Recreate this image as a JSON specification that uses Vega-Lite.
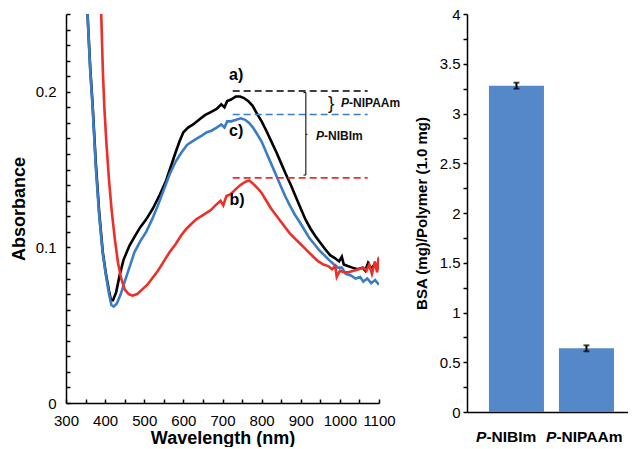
{
  "$schema": "https://vega.github.io/schema/vega-lite/v6.json",
  "background": "white",
  "padding": {"left": 10, "top": 7, "right": 0, "bottom": 0},
  "bounds": "flush",
  "spacing": 88,
  "config": {
    "font": "Liberation Sans",
    "view": {"stroke": null},
    "axis": {"labelColor": "black", "titleColor": "black", "domainColor": "black", "tickColor": "black", "grid": false, "domainWidth": 1.5, "tickWidth": 1.5, "labelOverlap": false}
  },
  "datasets": {
    "spectra": [
      {"series": "a", "wl": 355, "abs": 0.250}, {"series": "a", "wl": 362, "abs": 0.215}, {"series": "a", "wl": 368, "abs": 0.192}, {"series": "a", "wl": 376, "abs": 0.155}, {"series": "a", "wl": 385, "abs": 0.122}, {"series": "a", "wl": 394, "abs": 0.097}, {"series": "a", "wl": 402, "abs": 0.083}, {"series": "a", "wl": 410, "abs": 0.072}, {"series": "a", "wl": 415, "abs": 0.066}, {"series": "a", "wl": 420, "abs": 0.066}, {"series": "a", "wl": 428, "abs": 0.071}, {"series": "a", "wl": 437, "abs": 0.082}, {"series": "a", "wl": 447, "abs": 0.092}, {"series": "a", "wl": 462, "abs": 0.101}, {"series": "a", "wl": 478, "abs": 0.108}, {"series": "a", "wl": 490, "abs": 0.113}, {"series": "a", "wl": 505, "abs": 0.118}, {"series": "a", "wl": 522, "abs": 0.125}, {"series": "a", "wl": 540, "abs": 0.134}, {"series": "a", "wl": 556, "abs": 0.143}, {"series": "a", "wl": 568, "abs": 0.152}, {"series": "a", "wl": 580, "abs": 0.161}, {"series": "a", "wl": 590, "abs": 0.168}, {"series": "a", "wl": 600, "abs": 0.174}, {"series": "a", "wl": 612, "abs": 0.177}, {"series": "a", "wl": 625, "abs": 0.179}, {"series": "a", "wl": 640, "abs": 0.182}, {"series": "a", "wl": 655, "abs": 0.185}, {"series": "a", "wl": 670, "abs": 0.187}, {"series": "a", "wl": 685, "abs": 0.189}, {"series": "a", "wl": 697, "abs": 0.192}, {"series": "a", "wl": 705, "abs": 0.190}, {"series": "a", "wl": 712, "abs": 0.194}, {"series": "a", "wl": 722, "abs": 0.195}, {"series": "a", "wl": 734, "abs": 0.197}, {"series": "a", "wl": 745, "abs": 0.197}, {"series": "a", "wl": 755, "abs": 0.196}, {"series": "a", "wl": 766, "abs": 0.194}, {"series": "a", "wl": 777, "abs": 0.191}, {"series": "a", "wl": 788, "abs": 0.186}, {"series": "a", "wl": 800, "abs": 0.181}, {"series": "a", "wl": 812, "abs": 0.175}, {"series": "a", "wl": 825, "abs": 0.168}, {"series": "a", "wl": 838, "abs": 0.161}, {"series": "a", "wl": 850, "abs": 0.154}, {"series": "a", "wl": 862, "abs": 0.147}, {"series": "a", "wl": 875, "abs": 0.140}, {"series": "a", "wl": 888, "abs": 0.132}, {"series": "a", "wl": 900, "abs": 0.125}, {"series": "a", "wl": 912, "abs": 0.118}, {"series": "a", "wl": 925, "abs": 0.112}, {"series": "a", "wl": 938, "abs": 0.107}, {"series": "a", "wl": 950, "abs": 0.103}, {"series": "a", "wl": 962, "abs": 0.099}, {"series": "a", "wl": 975, "abs": 0.095}, {"series": "a", "wl": 988, "abs": 0.093}, {"series": "a", "wl": 998, "abs": 0.091}, {"series": "a", "wl": 1005, "abs": 0.094}, {"series": "a", "wl": 1010, "abs": 0.089}, {"series": "a", "wl": 1020, "abs": 0.088}, {"series": "a", "wl": 1032, "abs": 0.087}, {"series": "a", "wl": 1045, "abs": 0.086}, {"series": "a", "wl": 1058, "abs": 0.087}, {"series": "a", "wl": 1065, "abs": 0.085}, {"series": "a", "wl": 1072, "abs": 0.090}, {"series": "a", "wl": 1080, "abs": 0.086}, {"series": "a", "wl": 1088, "abs": 0.089}, {"series": "a", "wl": 1095, "abs": 0.086}, {"series": "a", "wl": 1100, "abs": 0.093},
      {"series": "c", "wl": 355, "abs": 0.250}, {"series": "c", "wl": 362, "abs": 0.213}, {"series": "c", "wl": 368, "abs": 0.190}, {"series": "c", "wl": 376, "abs": 0.152}, {"series": "c", "wl": 385, "abs": 0.120}, {"series": "c", "wl": 394, "abs": 0.096}, {"series": "c", "wl": 402, "abs": 0.082}, {"series": "c", "wl": 410, "abs": 0.070}, {"series": "c", "wl": 416, "abs": 0.063}, {"series": "c", "wl": 422, "abs": 0.062}, {"series": "c", "wl": 430, "abs": 0.064}, {"series": "c", "wl": 440, "abs": 0.070}, {"series": "c", "wl": 450, "abs": 0.078}, {"series": "c", "wl": 462, "abs": 0.087}, {"series": "c", "wl": 475, "abs": 0.097}, {"series": "c", "wl": 490, "abs": 0.104}, {"series": "c", "wl": 505, "abs": 0.110}, {"series": "c", "wl": 520, "abs": 0.118}, {"series": "c", "wl": 535, "abs": 0.127}, {"series": "c", "wl": 550, "abs": 0.137}, {"series": "c", "wl": 565, "abs": 0.147}, {"series": "c", "wl": 580, "abs": 0.155}, {"series": "c", "wl": 595, "abs": 0.161}, {"series": "c", "wl": 610, "abs": 0.166}, {"series": "c", "wl": 622, "abs": 0.168}, {"series": "c", "wl": 635, "abs": 0.170}, {"series": "c", "wl": 648, "abs": 0.172}, {"series": "c", "wl": 660, "abs": 0.174}, {"series": "c", "wl": 672, "abs": 0.175}, {"series": "c", "wl": 685, "abs": 0.177}, {"series": "c", "wl": 697, "abs": 0.179}, {"series": "c", "wl": 705, "abs": 0.177}, {"series": "c", "wl": 712, "abs": 0.181}, {"series": "c", "wl": 722, "abs": 0.181}, {"series": "c", "wl": 735, "abs": 0.182}, {"series": "c", "wl": 747, "abs": 0.183}, {"series": "c", "wl": 758, "abs": 0.182}, {"series": "c", "wl": 768, "abs": 0.180}, {"series": "c", "wl": 778, "abs": 0.177}, {"series": "c", "wl": 788, "abs": 0.173}, {"series": "c", "wl": 800, "abs": 0.168}, {"series": "c", "wl": 812, "abs": 0.161}, {"series": "c", "wl": 824, "abs": 0.154}, {"series": "c", "wl": 836, "abs": 0.147}, {"series": "c", "wl": 848, "abs": 0.140}, {"series": "c", "wl": 860, "abs": 0.133}, {"series": "c", "wl": 872, "abs": 0.127}, {"series": "c", "wl": 885, "abs": 0.121}, {"series": "c", "wl": 898, "abs": 0.116}, {"series": "c", "wl": 910, "abs": 0.111}, {"series": "c", "wl": 922, "abs": 0.106}, {"series": "c", "wl": 935, "abs": 0.102}, {"series": "c", "wl": 948, "abs": 0.098}, {"series": "c", "wl": 960, "abs": 0.095}, {"series": "c", "wl": 972, "abs": 0.092}, {"series": "c", "wl": 985, "abs": 0.089}, {"series": "c", "wl": 995, "abs": 0.087}, {"series": "c", "wl": 1005, "abs": 0.087}, {"series": "c", "wl": 1015, "abs": 0.083}, {"series": "c", "wl": 1028, "abs": 0.082}, {"series": "c", "wl": 1040, "abs": 0.080}, {"series": "c", "wl": 1052, "abs": 0.081}, {"series": "c", "wl": 1060, "abs": 0.078}, {"series": "c", "wl": 1070, "abs": 0.080}, {"series": "c", "wl": 1080, "abs": 0.077}, {"series": "c", "wl": 1090, "abs": 0.079}, {"series": "c", "wl": 1100, "abs": 0.076},
      {"series": "b", "wl": 390, "abs": 0.250}, {"series": "b", "wl": 394, "abs": 0.215}, {"series": "b", "wl": 398, "abs": 0.190}, {"series": "b", "wl": 403, "abs": 0.168}, {"series": "b", "wl": 410, "abs": 0.143}, {"series": "b", "wl": 417, "abs": 0.123}, {"series": "b", "wl": 425, "abs": 0.105}, {"series": "b", "wl": 433, "abs": 0.090}, {"series": "b", "wl": 441, "abs": 0.080}, {"series": "b", "wl": 450, "abs": 0.073}, {"series": "b", "wl": 460, "abs": 0.070}, {"series": "b", "wl": 470, "abs": 0.069}, {"series": "b", "wl": 482, "abs": 0.070}, {"series": "b", "wl": 495, "abs": 0.073}, {"series": "b", "wl": 508, "abs": 0.076}, {"series": "b", "wl": 520, "abs": 0.080}, {"series": "b", "wl": 535, "abs": 0.085}, {"series": "b", "wl": 550, "abs": 0.091}, {"series": "b", "wl": 565, "abs": 0.097}, {"series": "b", "wl": 580, "abs": 0.102}, {"series": "b", "wl": 595, "abs": 0.108}, {"series": "b", "wl": 608, "abs": 0.112}, {"series": "b", "wl": 620, "abs": 0.115}, {"series": "b", "wl": 633, "abs": 0.118}, {"series": "b", "wl": 645, "abs": 0.120}, {"series": "b", "wl": 658, "abs": 0.122}, {"series": "b", "wl": 670, "abs": 0.124}, {"series": "b", "wl": 682, "abs": 0.127}, {"series": "b", "wl": 695, "abs": 0.130}, {"series": "b", "wl": 702, "abs": 0.127}, {"series": "b", "wl": 710, "abs": 0.133}, {"series": "b", "wl": 720, "abs": 0.134}, {"series": "b", "wl": 732, "abs": 0.137}, {"series": "b", "wl": 745, "abs": 0.140}, {"series": "b", "wl": 757, "abs": 0.142}, {"series": "b", "wl": 768, "abs": 0.143}, {"series": "b", "wl": 778, "abs": 0.141}, {"series": "b", "wl": 790, "abs": 0.138}, {"series": "b", "wl": 800, "abs": 0.135}, {"series": "b", "wl": 812, "abs": 0.130}, {"series": "b", "wl": 824, "abs": 0.125}, {"series": "b", "wl": 836, "abs": 0.121}, {"series": "b", "wl": 848, "abs": 0.117}, {"series": "b", "wl": 860, "abs": 0.113}, {"series": "b", "wl": 872, "abs": 0.109}, {"series": "b", "wl": 884, "abs": 0.106}, {"series": "b", "wl": 896, "abs": 0.103}, {"series": "b", "wl": 908, "abs": 0.100}, {"series": "b", "wl": 920, "abs": 0.097}, {"series": "b", "wl": 932, "abs": 0.094}, {"series": "b", "wl": 945, "abs": 0.091}, {"series": "b", "wl": 958, "abs": 0.089}, {"series": "b", "wl": 970, "abs": 0.088}, {"series": "b", "wl": 980, "abs": 0.086}, {"series": "b", "wl": 988, "abs": 0.088}, {"series": "b", "wl": 992, "abs": 0.081}, {"series": "b", "wl": 1000, "abs": 0.085}, {"series": "b", "wl": 1010, "abs": 0.084}, {"series": "b", "wl": 1022, "abs": 0.084}, {"series": "b", "wl": 1035, "abs": 0.085}, {"series": "b", "wl": 1048, "abs": 0.086}, {"series": "b", "wl": 1060, "abs": 0.087}, {"series": "b", "wl": 1068, "abs": 0.085}, {"series": "b", "wl": 1075, "abs": 0.089}, {"series": "b", "wl": 1082, "abs": 0.083}, {"series": "b", "wl": 1090, "abs": 0.091}, {"series": "b", "wl": 1095, "abs": 0.084}, {"series": "b", "wl": 1100, "abs": 0.094}
    ],
    "levels": [
      {"series": "a", "x1": 726, "x2": 1071, "y": 0.2005},
      {"series": "c", "x1": 726, "x2": 1071, "y": 0.1854},
      {"series": "b", "x1": 726, "x2": 1071, "y": 0.1447}
    ],
    "bracket": [
      {"x1": 913, "x2": 913, "y1": 0.1465, "y2": 0.1995},
      {"x1": 907, "x2": 913, "y1": 0.1995, "y2": 0.1995},
      {"x1": 907, "x2": 913, "y1": 0.1465, "y2": 0.1465},
      {"x1": 913, "x2": 917, "y1": 0.1726, "y2": 0.1726}
    ],
    "curves": [
      {"x": 735, "y": 0.2105, "label": "a)"},
      {"x": 735, "y": 0.1745, "label": "c)"},
      {"x": 737, "y": 0.1305, "label": "b)"}
    ],
    "notes": [
      {"x": 939, "y": 0.1718, "prefix": "P", "suffix": "-NIBIm"},
      {"x": 1003, "y": 0.1926, "prefix": "P", "suffix": "-NIPAAm"}
    ],
    "brace": [
      {"x": 978, "y": 0.1928, "sym": "}"}
    ],
    "bsa": [
      {"polymer": "P-NIBIm", "prefix": "P", "suffix": "-NIBIm", "bsa": 3.28, "lo": 3.25, "hi": 3.31},
      {"polymer": "P-NIPAAm", "prefix": "P", "suffix": "-NIPAAm", "bsa": 0.64, "lo": 0.61, "hi": 0.67}
    ]
  },
  "hconcat": [
    {
      "width": 313,
      "height": 389,
      "layer": [
        {
          "data": {"name": "spectra"},
          "mark": {"type": "line", "strokeWidth": 2.6, "clip": true},
          "encoding": {
            "x": {"field": "wl", "type": "quantitative", "scale": {"domain": [300, 1100], "nice": false},
              "axis": {"values": [300, 350, 400, 450, 500, 550, 600, 650, 700, 750, 800, 850, 900, 950, 1000, 1050, 1100], "tickCount": 100, "format": "d", "labelExpr": "datum.value % 100 === 0 ? datum.label : ''", "labelOverlap": false, "labelFlush": false, "labelFontSize": 15, "labelPadding": 14, "tickSize": -4, "title": "Wavelength (nm)", "titleFontSize": 18, "titleFontWeight": "bold", "titlePadding": 1}},
            "y": {"field": "abs", "type": "quantitative", "scale": {"domain": [0, 0.25], "nice": false},
              "axis": {"values": [0, 0.01, 0.02, 0.03, 0.04, 0.05, 0.06, 0.07, 0.08, 0.09, 0.1, 0.11, 0.12, 0.13, 0.14, 0.15, 0.16, 0.17, 0.18, 0.19, 0.2, 0.21, 0.22, 0.23, 0.24, 0.25], "tickCount": 100, "format": "~g", "labelExpr": "abs(datum.value * 10 - round(datum.value * 10)) < 0.000001 ? datum.label : ''", "labelOverlap": false, "labelFlush": false, "labelFontSize": 15, "labelPadding": 14, "tickSize": -4, "title": "Absorbance", "titleFontSize": 18, "titleFontWeight": "bold", "titlePadding": 7}},
            "color": {"field": "series", "type": "nominal", "scale": {"domain": ["a", "b", "c"], "range": ["#000000", "#ec2f28", "#3b7dc4"]}, "legend": null}
          }
        },
        {
          "data": {"name": "levels"},
          "mark": {"type": "rule", "strokeWidth": 1.6, "strokeDash": [7, 4]},
          "encoding": {
            "x": {"field": "x1", "type": "quantitative"},
            "x2": {"field": "x2"},
            "y": {"field": "y", "type": "quantitative"},
            "color": {"field": "series", "type": "nominal", "legend": null}
          }
        },
        {
          "data": {"name": "bracket"},
          "mark": {"type": "rule", "strokeWidth": 1.1, "color": "#111111"},
          "encoding": {
            "x": {"field": "x1", "type": "quantitative"},
            "x2": {"field": "x2"},
            "y": {"field": "y1", "type": "quantitative"},
            "y2": {"field": "y2"}
          }
        },
        {
          "data": {"name": "curves"},
          "mark": {"type": "text", "fontSize": 16, "fontWeight": "bold", "color": "black", "align": "center", "baseline": "middle"},
          "encoding": {
            "x": {"field": "x", "type": "quantitative"},
            "y": {"field": "y", "type": "quantitative"},
            "text": {"field": "label"}
          }
        },
        {
          "data": {"name": "notes"},
          "mark": {"type": "text", "fontSize": 12, "fontWeight": "bold", "fontStyle": "italic", "color": "#111111", "align": "left", "baseline": "middle"},
          "encoding": {
            "x": {"field": "x", "type": "quantitative"},
            "y": {"field": "y", "type": "quantitative"},
            "text": {"field": "prefix"}
          }
        },
        {
          "data": {"name": "notes"},
          "mark": {"type": "text", "fontSize": 12, "fontWeight": "bold", "color": "#111111", "align": "left", "baseline": "middle", "dx": 8},
          "encoding": {
            "x": {"field": "x", "type": "quantitative"},
            "y": {"field": "y", "type": "quantitative"},
            "text": {"field": "suffix"}
          }
        },
        {
          "data": {"name": "brace"},
          "mark": {"type": "text", "fontSize": 19, "color": "#111111", "align": "center", "baseline": "middle"},
          "encoding": {
            "x": {"field": "x", "type": "quantitative"},
            "y": {"field": "y", "type": "quantitative"},
            "text": {"field": "sym"}
          }
        }
      ]
    },
    {
      "width": 161,
      "height": 398,
      "data": {"name": "bsa"},
      "encoding": {
        "x": {"field": "polymer", "type": "nominal", "sort": null, "scale": {"paddingInner": 0.214, "paddingOuter": 0.257, "align": 0.61},
          "axis": {"labels": false, "ticks": false, "title": null, "domainWidth": 1.5}}
      },
      "layer": [
        {
          "mark": {"type": "bar", "color": "#5588c8"},
          "encoding": {
            "y": {"field": "bsa", "type": "quantitative", "scale": {"domain": [0, 4], "nice": false}, "title": "BSA (mg)/Polymer (1.0 mg)",
              "axis": {"values": [0, 0.25, 0.5, 0.75, 1, 1.25, 1.5, 1.75, 2, 2.25, 2.5, 2.75, 3, 3.25, 3.5, 3.75, 4], "tickCount": 100, "format": "~g", "labelExpr": "abs(datum.value * 2 - round(datum.value * 2)) < 0.000001 ? datum.label : ''", "labelOverlap": false, "labelFlush": false, "labelFontSize": 15, "labelPadding": 3, "tickSize": 4, "title": "BSA (mg)/Polymer (1.0 mg)", "titleFontSize": 15, "titleFontWeight": "bold", "titlePadding": 10}}
          }
        },
        {
          "mark": {"type": "errorbar", "ticks": {"size": 6, "thickness": 2, "color": "black"}, "rule": {"strokeWidth": 2, "color": "black"}},
          "encoding": {
            "y": {"field": "lo", "type": "quantitative", "title": "BSA (mg)/Polymer (1.0 mg)"},
            "y2": {"field": "hi"}
          }
        },
        {
          "mark": {"type": "text", "fontSize": 15.5, "fontWeight": "bold", "fontStyle": "italic", "color": "black", "align": "right", "baseline": "middle", "dy": 25, "dx": -30},
          "encoding": {"y": {"datum": 0}, "text": {"field": "prefix"}}
        },
        {
          "mark": {"type": "text", "fontSize": 15.5, "fontWeight": "bold", "color": "black", "align": "left", "baseline": "middle", "dy": 25, "dx": -30},
          "encoding": {"y": {"datum": 0}, "text": {"field": "suffix"}}
        }
      ]
    }
  ]
}
